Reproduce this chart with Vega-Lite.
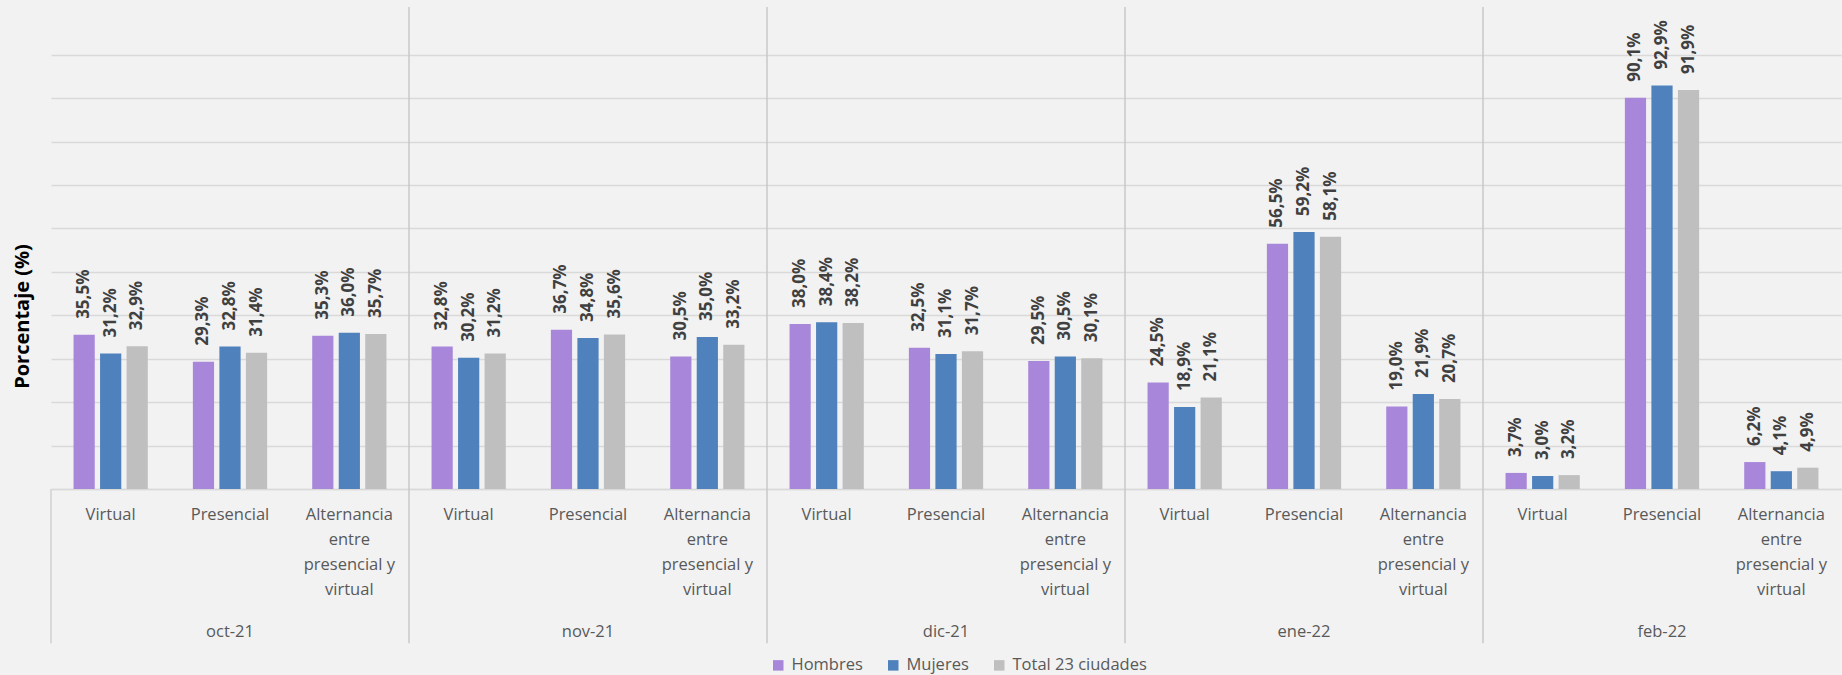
{
  "$schema": "https://vega.github.io/schema/vega-lite/v6.json",
  "width": 1790,
  "height": 482,
  "autosize": {"type": "none"},
  "padding": {"left": 51, "top": 7, "right": 1, "bottom": 186},
  "background": "#f2f2f2",
  "config": {
    "view": {"stroke": null},
    "font": "Open Sans",
    "locale": {"number": {"decimal": ",", "thousands": ".", "grouping": [3], "currency": ["", "%"]}}
  },
  "datasets": {
    "d": [
      {"month":"oct-21","cat":"oct-21|Virtual","serie":"Hombres","pct":35.5},
      {"month":"oct-21","cat":"oct-21|Virtual","serie":"Mujeres","pct":31.2},
      {"month":"oct-21","cat":"oct-21|Virtual","serie":"Total 23 ciudades","pct":32.9},
      {"month":"oct-21","cat":"oct-21|Presencial","serie":"Hombres","pct":29.3},
      {"month":"oct-21","cat":"oct-21|Presencial","serie":"Mujeres","pct":32.8},
      {"month":"oct-21","cat":"oct-21|Presencial","serie":"Total 23 ciudades","pct":31.4},
      {"month":"oct-21","cat":"oct-21|Alternancia","serie":"Hombres","pct":35.3},
      {"month":"oct-21","cat":"oct-21|Alternancia","serie":"Mujeres","pct":36.0},
      {"month":"oct-21","cat":"oct-21|Alternancia","serie":"Total 23 ciudades","pct":35.7},
      {"month":"nov-21","cat":"nov-21|Virtual","serie":"Hombres","pct":32.8},
      {"month":"nov-21","cat":"nov-21|Virtual","serie":"Mujeres","pct":30.2},
      {"month":"nov-21","cat":"nov-21|Virtual","serie":"Total 23 ciudades","pct":31.2},
      {"month":"nov-21","cat":"nov-21|Presencial","serie":"Hombres","pct":36.7},
      {"month":"nov-21","cat":"nov-21|Presencial","serie":"Mujeres","pct":34.8},
      {"month":"nov-21","cat":"nov-21|Presencial","serie":"Total 23 ciudades","pct":35.6},
      {"month":"nov-21","cat":"nov-21|Alternancia","serie":"Hombres","pct":30.5},
      {"month":"nov-21","cat":"nov-21|Alternancia","serie":"Mujeres","pct":35.0},
      {"month":"nov-21","cat":"nov-21|Alternancia","serie":"Total 23 ciudades","pct":33.2},
      {"month":"dic-21","cat":"dic-21|Virtual","serie":"Hombres","pct":38.0},
      {"month":"dic-21","cat":"dic-21|Virtual","serie":"Mujeres","pct":38.4},
      {"month":"dic-21","cat":"dic-21|Virtual","serie":"Total 23 ciudades","pct":38.2},
      {"month":"dic-21","cat":"dic-21|Presencial","serie":"Hombres","pct":32.5},
      {"month":"dic-21","cat":"dic-21|Presencial","serie":"Mujeres","pct":31.1},
      {"month":"dic-21","cat":"dic-21|Presencial","serie":"Total 23 ciudades","pct":31.7},
      {"month":"dic-21","cat":"dic-21|Alternancia","serie":"Hombres","pct":29.5},
      {"month":"dic-21","cat":"dic-21|Alternancia","serie":"Mujeres","pct":30.5},
      {"month":"dic-21","cat":"dic-21|Alternancia","serie":"Total 23 ciudades","pct":30.1},
      {"month":"ene-22","cat":"ene-22|Virtual","serie":"Hombres","pct":24.5},
      {"month":"ene-22","cat":"ene-22|Virtual","serie":"Mujeres","pct":18.9},
      {"month":"ene-22","cat":"ene-22|Virtual","serie":"Total 23 ciudades","pct":21.1},
      {"month":"ene-22","cat":"ene-22|Presencial","serie":"Hombres","pct":56.5},
      {"month":"ene-22","cat":"ene-22|Presencial","serie":"Mujeres","pct":59.2},
      {"month":"ene-22","cat":"ene-22|Presencial","serie":"Total 23 ciudades","pct":58.1},
      {"month":"ene-22","cat":"ene-22|Alternancia","serie":"Hombres","pct":19.0},
      {"month":"ene-22","cat":"ene-22|Alternancia","serie":"Mujeres","pct":21.9},
      {"month":"ene-22","cat":"ene-22|Alternancia","serie":"Total 23 ciudades","pct":20.7},
      {"month":"feb-22","cat":"feb-22|Virtual","serie":"Hombres","pct":3.7},
      {"month":"feb-22","cat":"feb-22|Virtual","serie":"Mujeres","pct":3.0},
      {"month":"feb-22","cat":"feb-22|Virtual","serie":"Total 23 ciudades","pct":3.2},
      {"month":"feb-22","cat":"feb-22|Presencial","serie":"Hombres","pct":90.1},
      {"month":"feb-22","cat":"feb-22|Presencial","serie":"Mujeres","pct":92.9},
      {"month":"feb-22","cat":"feb-22|Presencial","serie":"Total 23 ciudades","pct":91.9},
      {"month":"feb-22","cat":"feb-22|Alternancia","serie":"Hombres","pct":6.2},
      {"month":"feb-22","cat":"feb-22|Alternancia","serie":"Mujeres","pct":4.1},
      {"month":"feb-22","cat":"feb-22|Alternancia","serie":"Total 23 ciudades","pct":4.9}
    ],
    "months": [
      {"month":"oct-21","first":"oct-21|Virtual","mid":"oct-21|Presencial"},
      {"month":"nov-21","first":"nov-21|Virtual","mid":"nov-21|Presencial"},
      {"month":"dic-21","first":"dic-21|Virtual","mid":"dic-21|Presencial"},
      {"month":"ene-22","first":"ene-22|Virtual","mid":"ene-22|Presencial"},
      {"month":"feb-22","first":"feb-22|Virtual","mid":"feb-22|Presencial"}
    ]
  },
  "layer": [
    {
      "data": {"name": "d"},
      "mark": {"type": "bar"},
      "encoding": {
        "x": {
          "field": "cat", "type": "nominal",
          "scale": {"domain": ["oct-21|Virtual","oct-21|Presencial","oct-21|Alternancia","nov-21|Virtual","nov-21|Presencial","nov-21|Alternancia","dic-21|Virtual","dic-21|Presencial","dic-21|Alternancia","ene-22|Virtual","ene-22|Presencial","ene-22|Alternancia","feb-22|Virtual","feb-22|Presencial","feb-22|Alternancia"], "paddingInner": 0, "paddingOuter": 0},
          "axis": {
            "title": null, "ticks": false, "domain": true, "domainColor": "#d9d9d9", "domainWidth": 1.5,
            "labelAngle": 0, "labelFont": "Open Sans", "labelFontSize": 16.5, "labelColor": "#595959",
            "labelLineHeight": 25, "labelBaseline": "top", "labelPadding": 17, "labelLimit": 0,
            "labelOverlap": false, "labelFlush": false,
            "labelExpr": "indexof(datum.value,'Alternancia')>=0 ? ['Alternancia','entre','presencial y','virtual'] : split(datum.value,'|')[1]"
          }
        },
        "xOffset": {"field": "serie", "type": "nominal", "scale": {"domain": ["Hombres","Mujeres","Total 23 ciudades"], "paddingInner": 0.2, "paddingOuter": 0.85}},
        "y": {
          "field": "pct", "type": "quantitative",
          "scale": {"domain": [0, 111], "nice": false},
          "axis": {
            "title": "Porcentaje (%)", "titleFont": "Open Sans", "titleFontSize": 20, "titleFontWeight": "bold", "titleColor": "#000000",
            "titleAngle": -90, "titleX": -29, "titleY": 309, "titleAlign": "center", "titleBaseline": "middle",
            "labels": false, "ticks": false, "domain": false,
            "values": [0,10,20,30,40,50,60,70,80,90,100],
            "grid": true, "gridColor": "#d9d9d9", "gridWidth": 1.5
          }
        },
        "color": {
          "field": "serie", "type": "nominal",
          "scale": {"domain": ["Hombres","Mujeres","Total 23 ciudades"], "range": ["#a886d9","#4f81bd","#bfbfbf"]},
          "legend": {
            "title": null, "orient": "none", "direction": "horizontal", "legendX": 719, "legendY": 650,
            "symbolType": "square", "symbolSize": 110, "symbolStrokeWidth": 0,
            "labelFont": "Open Sans", "labelFontSize": 16.5, "labelColor": "#595959", "labelOffset": 5,
            "columnPadding": 22
          }
        }
      }
    },
    {
      "data": {"name": "d"},
      "mark": {"type": "text", "angle": -90, "align": "left", "baseline": "middle", "dx": 16, "font": "Open Sans", "fontSize": 17, "fontWeight": "bold", "color": "#404040"},
      "encoding": {
        "x": {"field": "cat", "type": "nominal"},
        "xOffset": {"field": "serie", "type": "nominal"},
        "y": {"field": "pct", "type": "quantitative"},
        "text": {"field": "pct", "type": "quantitative", "format": "$.1f"}
      }
    },
    {
      "data": {"name": "months"},
      "transform": [{"filter": "datum.month != 'oct-21'"}],
      "mark": {"type": "rule", "color": "#c8c8c8", "strokeWidth": 1.5},
      "encoding": {
        "x": {"field": "first", "type": "nominal", "bandPosition": 0},
        "y": {"datum": -35.5},
        "y2": {"datum": 111}
      }
    },
    {
      "data": {"name": "months"},
      "transform": [{"filter": "datum.month == 'oct-21'"}],
      "mark": {"type": "rule", "color": "#d0d0d0", "strokeWidth": 1.5},
      "encoding": {
        "x": {"field": "first", "type": "nominal", "bandPosition": 0},
        "y": {"datum": -35.5},
        "y2": {"datum": 0}
      }
    },
    {
      "data": {"name": "months"},
      "mark": {"type": "text", "font": "Open Sans", "fontSize": 16.5, "color": "#595959", "baseline": "middle", "align": "center"},
      "encoding": {
        "x": {"field": "mid", "type": "nominal"},
        "y": {"datum": -33},
        "text": {"field": "month", "type": "nominal"}
      }
    }
  ]
}
